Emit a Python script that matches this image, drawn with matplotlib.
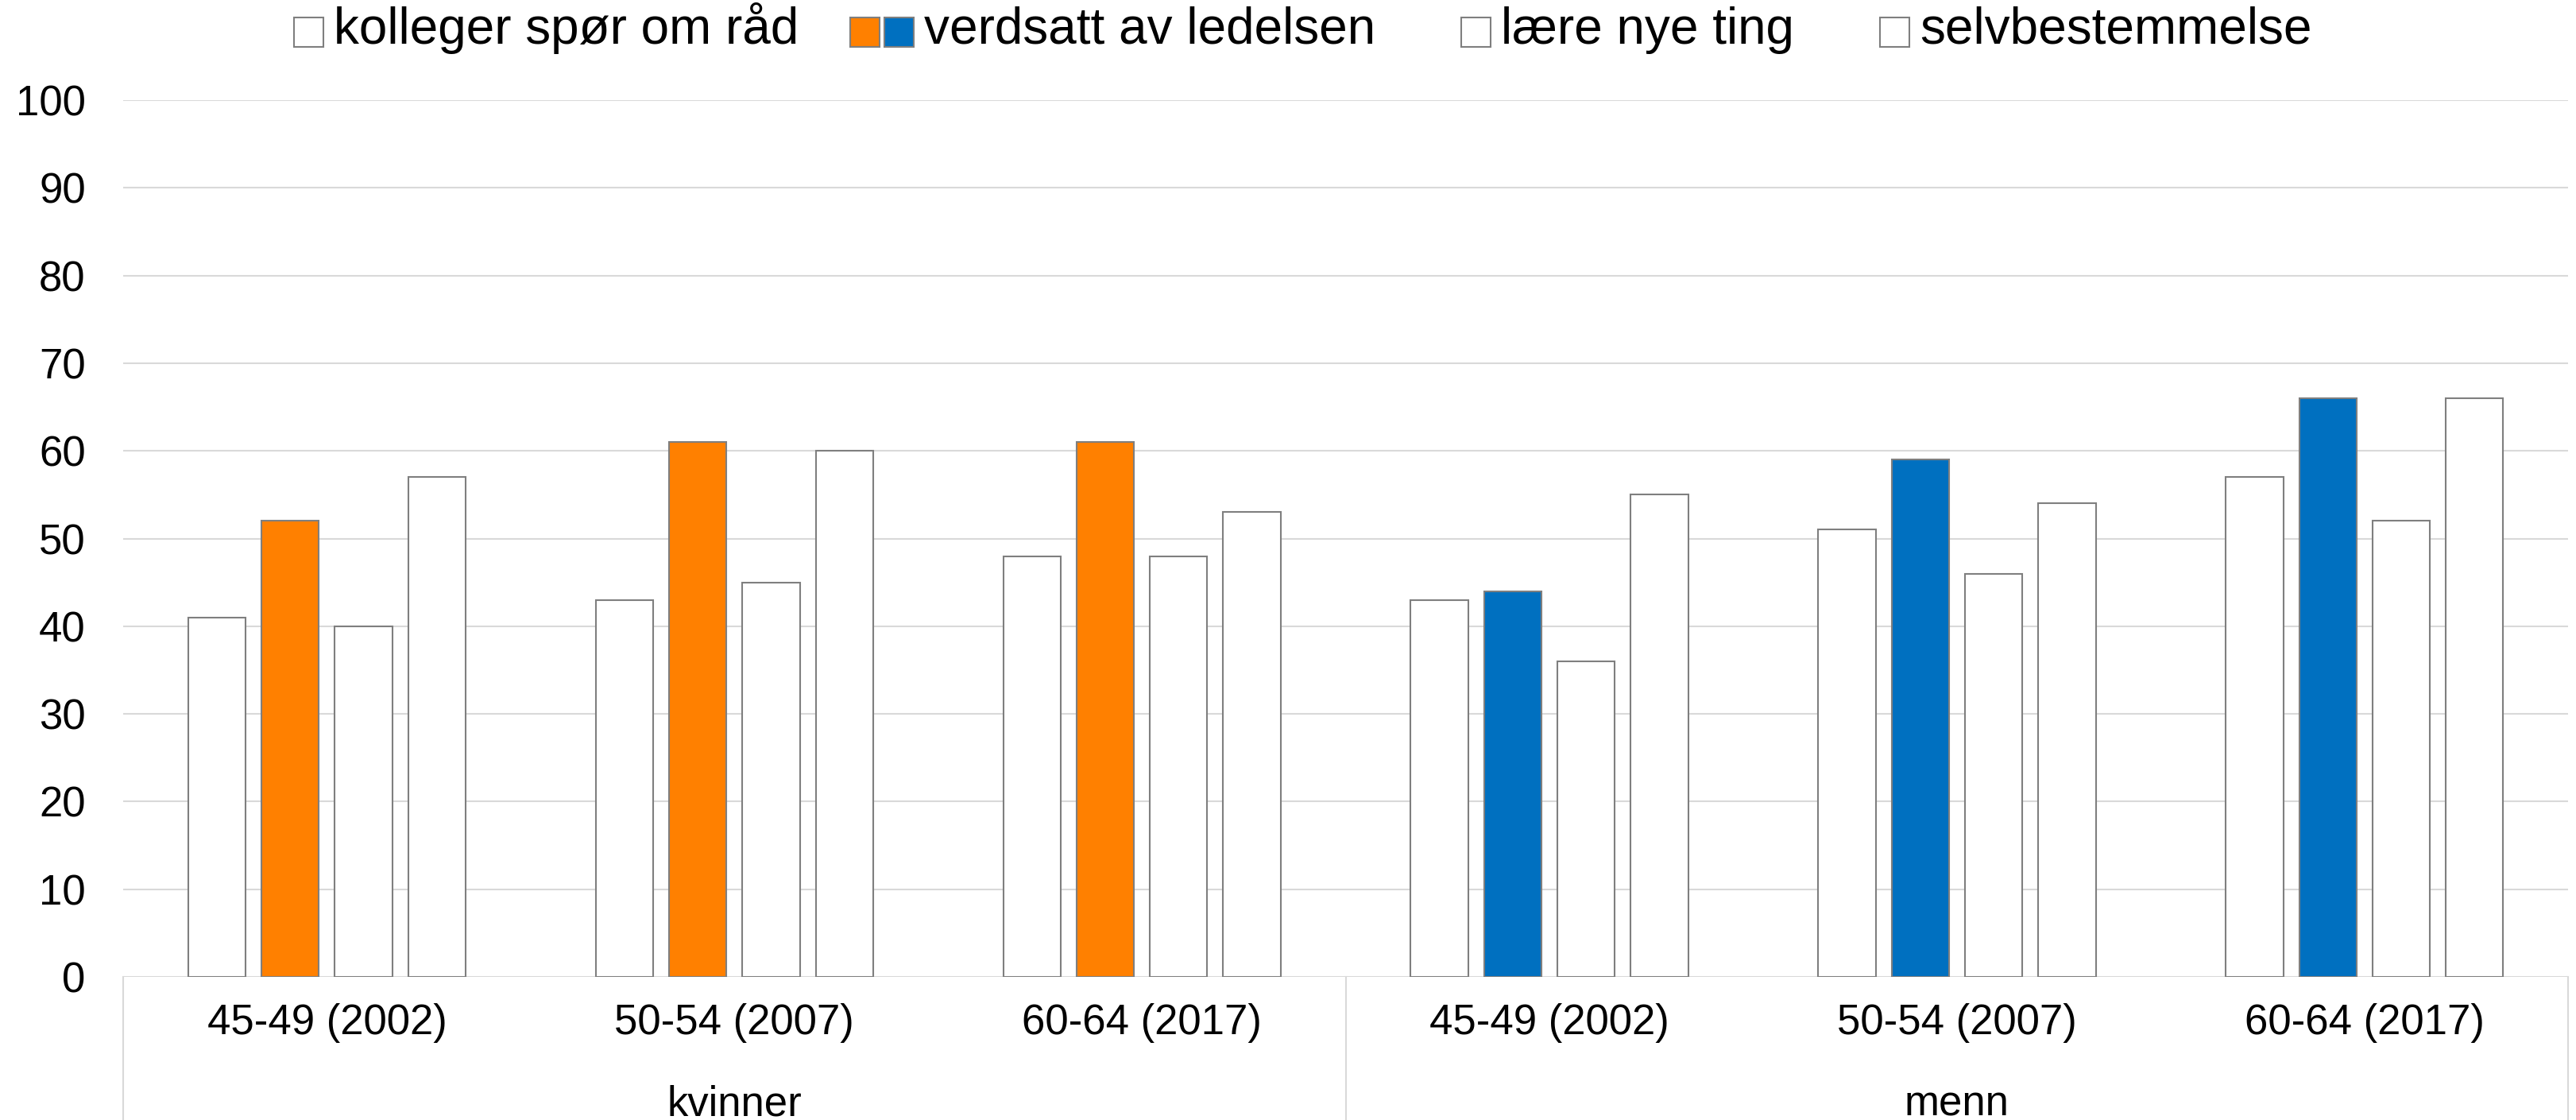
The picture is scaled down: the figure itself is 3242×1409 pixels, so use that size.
import numpy as np
import matplotlib
matplotlib.use('Agg')
import matplotlib.pyplot as plt
from matplotlib.patches import Rectangle
from matplotlib.legend_handler import HandlerBase
import matplotlib.transforms as mtransforms

plt.rcParams['font.family'] = ['Liberation Sans', 'DejaVu Sans']

# data
groups = ['kvinner', 'menn']
ages = ['45-49 (2002)', '50-54 (2007)', '60-64 (2017)']
series = ['kolleger spør om råd', 'verdsatt av ledelsen', 'lære nye ting', 'selvbestemmelse']
kolleger = [41, 43, 48, 43, 51, 57]
verdsatt = [52, 61, 61, 44, 59, 66]
laere = [40, 45, 48, 36, 46, 52]
selv = [57, 60, 53, 55, 54, 66]

ORANGE = '#FF8000'
BLUE = '#0070C0'
EDGE = '#7F7F7F'
GRID = '#D9D9D9'

verdsatt_colors = [ORANGE] * 3 + [BLUE] * 3
values = [kolleger, verdsatt, laere, selv]
colors = [['white'] * 6, verdsatt_colors, ['white'] * 6, ['white'] * 6]

fig = plt.figure(figsize=(32.42, 14.09), dpi=100)
ax = fig.add_axes([0.0478, 0.1277, 0.9492, 0.7829])

x = np.arange(len(groups) * len(ages))
pitch = 0.18
width = 0.141
for i, (vals, cols) in enumerate(zip(values, colors)):
    ax.bar(x + (i - 1.5) * pitch, vals, width=width, color=cols,
           edgecolor=EDGE, linewidth=1.5, zorder=3)

ax.set_xlim(-0.5, len(x) - 0.5)
ax.set_ylim(0, 100)
ax.set_yticks(range(0, 101, 10))
ax.grid(axis='y', color=GRID, linewidth=1.5, zorder=0)
ax.set_axisbelow(True)
for s in ax.spines.values():
    s.set_visible(False)
ax.tick_params(axis='y', length=0, pad=34, labelsize=38)
ax.set_xticks(x)
ax.set_xticklabels(ages * len(groups))
ax.tick_params(axis='x', length=0, pad=24, labelsize=38)

# two-level category axis
trans = mtransforms.blended_transform_factory(ax.transData, ax.transAxes)
ybot = -0.1277 / 0.7829
for b in [-0.5, 2.5, 5.5]:
    ax.plot([b, b], [0, ybot], transform=trans, color=GRID, linewidth=1.5,
            clip_on=False)
for gi, g in enumerate(groups):
    ax.text(gi * 3 + 1, -0.158, g, transform=trans, ha='center',
            va='baseline', fontsize=38)


class SquareHandler(HandlerBase):
    def __init__(self, cols):
        super().__init__()
        self.cols = cols

    def legend_artist(self, legend, orig_handle, fontsize, handlebox):
        x0, y0 = handlebox.xdescent, handlebox.ydescent
        w, h = handlebox.width, handlebox.height
        gap = 0.1 * fontsize
        for i, c in enumerate(reversed(self.cols)):
            xx = x0 + w - (i + 1) * h - i * gap
            r = Rectangle((xx, y0), h, h, facecolor=c, edgecolor=EDGE,
                          linewidth=1.5, transform=handlebox.get_transform())
            handlebox.add_artist(r)
        return r


handles = [Rectangle((0, 0), 1, 1) for _ in series]
hcols = [['white'], [ORANGE, BLUE], ['white'], ['white']]
hmap = {h: SquareHandler(c) for h, c in zip(handles, hcols)}
fig.legend(handles, series, handler_map=hmap, loc='upper center',
           bbox_to_anchor=(0.5, 0.998), ncol=4, frameon=False, fontsize=46,
           handlelength=1.17, handleheight=0.52, handletextpad=0.2,
           columnspacing=1.1, borderpad=0, borderaxespad=0)

fig.savefig('out.png', dpi=100)
